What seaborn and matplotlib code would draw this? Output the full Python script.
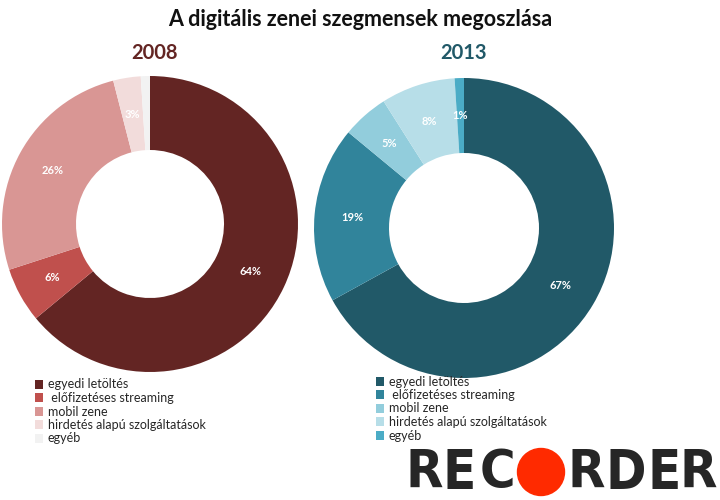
import matplotlib
matplotlib.use("Agg")
import matplotlib.pyplot as plt
import seaborn as sns
import numpy as np
from matplotlib.patches import Patch, Circle

sns.set_theme(style="white")
plt.rcParams['font.family'] = ['Lato', 'DejaVu Sans']

title = "A digitális zenei szegmensek megoszlása"
categories = ["egyedi letöltés", " előfizetéses streaming", "mobil zene",
              "hirdetés alapú szolgáltatások", "egyéb"]
years = ["2008", "2013"]
values_2008 = [64, 6, 26, 3, 1]
values_2013 = [67, 19, 5, 8, 1]
labels_2008 = ["64%", "6%", "26%", "3%", ""]
labels_2013 = ["67%", "19%", "5%", "8%", "1%"]
colors_2008 = ["#632523", "#C0504D", "#D99694", "#F2DCDB", "#F2F2F2"]
colors_2013 = ["#215968", "#31849B", "#92CDDC", "#B7DEE8", "#4BACC6"]
year_colors = ["#632523", "#215968"]

W, H = 720, 500
fig = plt.figure(figsize=(7.2, 5.0), dpi=100)

def px_axes(x0, y0, w, h):
    return fig.add_axes([x0 / W, 1 - (y0 + h) / H, w / W, h / H])

def donut(ax, vals, labs, cols):
    ax.pie(vals, colors=cols, startangle=90, counterclock=False,
           radius=1.0, wedgeprops=dict(width=0.5, linewidth=0))
    total = sum(vals)
    ang = 90.0
    for v, lab in zip(vals, labs):
        span = 360.0 * v / total
        mid = np.deg2rad(ang - span / 2)
        ang -= span
        if lab:
            ax.text(0.75 * np.cos(mid), 0.75 * np.sin(mid), lab, color="white",
                    ha="center", va="center", fontsize=8, fontweight="bold")
    ax.set_xlim(-1, 1)
    ax.set_ylim(-1, 1)
    ax.set_aspect("equal")
    ax.axis("off")

ax1 = px_axes(2, 76, 296, 296)
donut(ax1, values_2008, labels_2008, colors_2008)
ax2 = px_axes(314, 78, 300, 300)
donut(ax2, values_2013, labels_2013, colors_2013)

fig.text(360 / W, 1 - 19 / H, title, ha="center", va="center", fontsize=15.5,
         fontweight="bold", color="#111111")
fig.text(154 / W, 1 - 53 / H, years[0], ha="center", va="center", fontsize=14.5,
         fontweight="bold", color=year_colors[0])
fig.text(464 / W, 1 - 53 / H, years[1], ha="center", va="center", fontsize=14.5,
         fontweight="bold", color=year_colors[1])

for cols, x0, y0 in [(colors_2008, 32, 376), (colors_2013, 373, 373)]:
    handles = [Patch(facecolor=c, edgecolor="none") for c in cols]
    fig.legend(handles, categories, loc="upper left",
               bbox_to_anchor=(x0 / W, 1 - y0 / H), frameon=False, fontsize=9,
               handlelength=0.7, handleheight=0.7, handletextpad=0.35,
               labelspacing=0.12, borderpad=0.2, borderaxespad=0)

# logo
logo_letters = ["R", "E", "C", "", "R", "D", "E", "R"]
slots = [424, 459, 497, 541, 586, 626, 664, 698]
lax = px_axes(0, 0, W, H)
lax.set_xlim(0, W)
lax.set_ylim(H, 0)
lax.axis("off")
for ch, xc in zip(logo_letters, slots):
    if ch:
        lax.text(xc, 473, ch, ha="center", va="center", fontsize=39,
                 fontweight="bold", fontstretch="condensed", color="#262626",
                 family="DejaVu Sans")
lax.add_patch(Circle((541, 472), 23.5, color="#FF2A00"))

fig.savefig("out.png", dpi=100)
